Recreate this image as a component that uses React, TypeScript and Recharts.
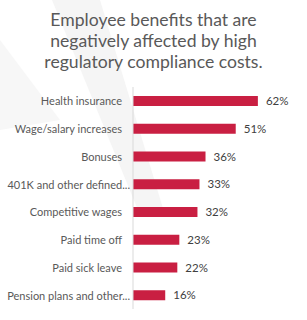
import { BarChart, Bar, XAxis, YAxis, LabelList } from "recharts";

const categories = [
  "Health insurance",
  "Wage/salary increases",
  "Bonuses",
  "401K and other defined...",
  "Competitive wages",
  "Paid time off",
  "Paid sick leave",
  "Pension plans and other...",
];
const values = [62, 51, 36, 33, 32, 23, 22, 16];

const TITLE = [
  "Employee benefits that are",
  "negatively affected by high",
  "regulatory compliance costs.",
];

const FONT = "Lato, 'Noto Sans', sans-serif";

// truncated labels sit closer to the axis in the original
const CategoryTick = ({ x, y, payload }: any) => {
  const truncated = String(payload.value).endsWith("...");
  return (
    <text
      x={truncated ? x + 8 : x}
      y={y}
      textAnchor="end"
      dominantBaseline="central"
      fill="#595959"
      fontSize={11}
      fontFamily={FONT}
    >
      {payload.value}
    </text>
  );
};

export default function App() {
  const data = categories.map((name, i) => ({ name, value: values[i] }));

  return (
    <div
      style={{
        position: "fixed",
        top: 0,
        left: 0,
        width: 307,
        height: 320,
        background: "#fff",
        overflow: "hidden",
        fontFamily: FONT,
      }}
    >
      {/* faint watermark shape in the background */}
      <svg width={307} height={320} style={{ position: "absolute", top: 0, left: 0 }}>
        <polygon points="52,0 100,0 165,215 140,215" fill="#f5f5f5" />
        <polygon points="0,40 0,130 60,120" fill="#f7f7f7" />
      </svg>
      <div
        style={{
          position: "absolute",
          top: 9,
          left: 0,
          width: 307,
          textAlign: "center",
          fontSize: 17.6,
          lineHeight: "21px",
          color: "#595959",
        }}
      >
        {TITLE.map((t) => (
          <div key={t}>{t}</div>
        ))}
      </div>
      <div style={{ position: "absolute", top: 0, left: 0 }}>
        <BarChart
          width={307}
          height={320}
          data={data}
          layout="vertical"
          margin={{ top: 87, right: 33, bottom: 11, left: 0 }}
        >
          <XAxis type="number" domain={[0, 70]} hide />
          <YAxis
            type="category"
            dataKey="name"
            width={133}
            tickLine={false}
            tickSize={0}
            tickMargin={11}
            axisLine={{ stroke: "#d9d9d9" }}
            tick={<CategoryTick />}
            interval={0}
          />
          <Bar dataKey="value" fill="#c91f42" barSize={10} isAnimationActive={false}>
            <LabelList
              dataKey="value"
              position="right"
              offset={8}
              formatter={(v: any) => `${v}%`}
              style={{ fill: "#404040", fontSize: 11.5, fontFamily: FONT }}
            />
          </Bar>
        </BarChart>
      </div>
    </div>
  );
}
